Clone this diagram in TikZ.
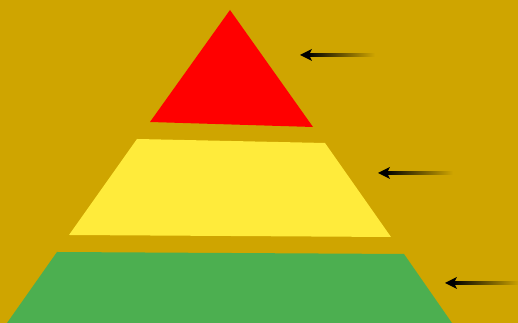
\documentclass[tikz,border=0pt]{standalone}
\usetikzlibrary{shadings}
\definecolor{bg}{RGB}{207,165,0}
\definecolor{topred}{RGB}{255,0,0}
\definecolor{midyellow}{RGB}{255,235,59}
\definecolor{lowgreen}{RGB}{76,175,80}

\begin{document}
\begin{tikzpicture}[x=0.02cm,y=-0.02cm]
  \fill[bg] (0,0) rectangle (518,323);
  \useasboundingbox (0,0) rectangle (518,323);
  \fill[topred] (230,10) -- (313,127) -- (150,122) -- cycle;
  \fill[midyellow] (137,139) -- (325,143) -- (391,237) -- (69,235) -- cycle;
  \fill[lowgreen] (57,252) -- (404,254) -- (452,323) -- (7,323) -- cycle;
  \foreach \x/\y in {300/55, 378/173, 445/283} {
    \shade[left color=black,middle color=black!80!bg,right color=bg] (\x+8,\y-1.1) rectangle (\x+75,\y+1.1);
    \fill[black] (\x,\y) -- (\x+12,\y-6) -- (\x+9,\y) -- (\x+12,\y+6) -- cycle;
  }
\end{tikzpicture}
\end{document}
